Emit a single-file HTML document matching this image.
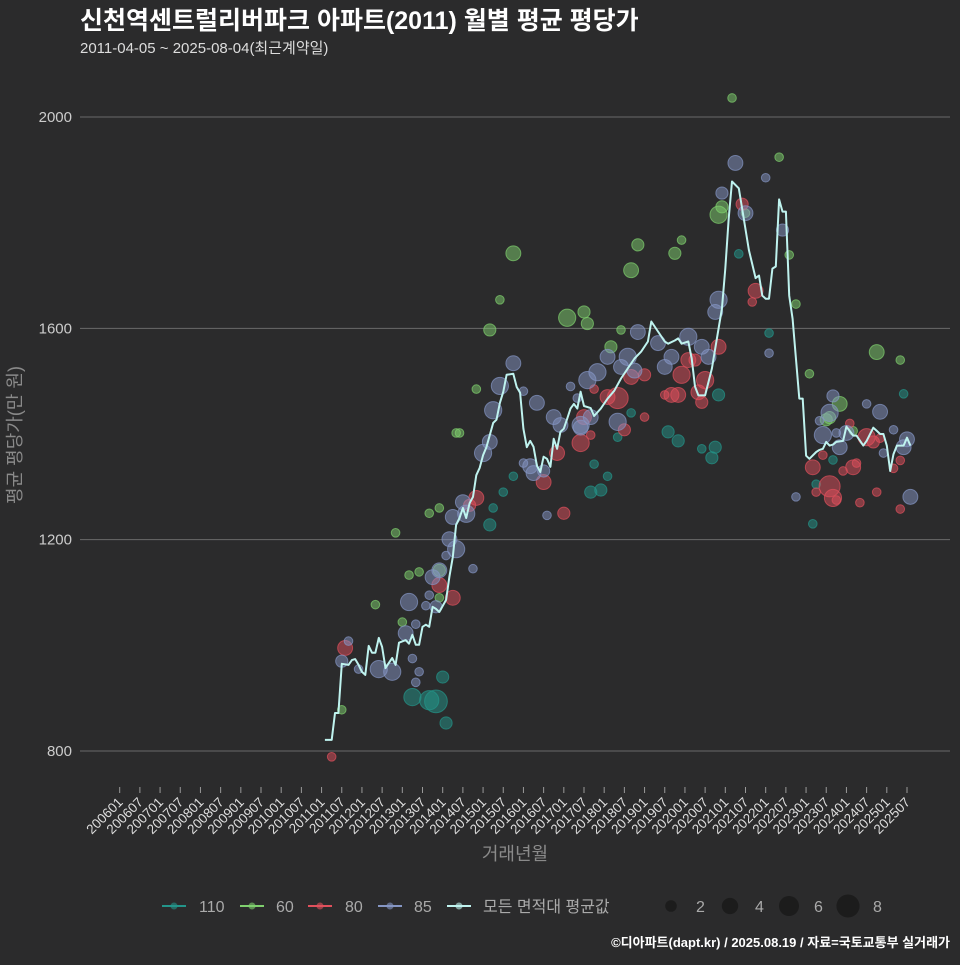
<!DOCTYPE html>
<html><head><meta charset="utf-8">
<style>
html,body{margin:0;padding:0;background:#2b2b2c;}
body{width:960px;height:960px;overflow:hidden;font-family:"Liberation Sans","Noto Sans CJK KR",sans-serif;}
svg text{font-family:"Liberation Sans","Noto Sans CJK KR",sans-serif;}
</style></head>
<body>
<svg id="chart" width="960" height="960" xmlns="http://www.w3.org/2000/svg">
<rect x="0" y="0" width="960" height="960" fill="#2b2b2c"/>
<text x="80" y="29" fill="#ffffff" font-size="25" font-weight="bold">신천역센트럴리버파크 아파트(2011) 월별 평균 평당가</text>
<text x="80" y="53" fill="#dddddd" font-size="15">2011-04-05 ~ 2025-08-04(최근계약일)</text>
<g id="grid"></g>
<g id="bubbles"></g>
<g id="line"></g>
<g id="xaxis"></g>
<text transform="translate(21,435) rotate(-90)" text-anchor="middle" fill="#8a8a8a" font-size="18">평균 평당가(만 원)</text>
<text x="515" y="860" text-anchor="middle" fill="#8a8a8a" font-size="18">거래년월</text>
<g id="legend"></g>
<text x="950" y="947" text-anchor="end" fill="#ffffff" font-size="13" font-weight="bold">©디아파트(dapt.kr) / 2025.08.19 / 자료=국토교통부 실거래가</text>
</svg>
<script>
const yTicks=[800,1200,1600,2000];
const xTickLabels=[];
for(let y=2006;y<=2025;y++){xTickLabels.push(y+'01');xTickLabels.push(y+'07');}
const lineMonths=['201102','201104','201105','201106','201107','201109','201110','201111','201112','201201','201202','201203','201204','201205','201206','201207','201208','201209','201210','201211','201212','201302','201303','201304','201305','201306','201307','201308','201309','201310','201311','201312','201402','201403','201404','201405','201406','201407','201408','201409','201410','201411','201412','201501','201502','201504','201505','201506','201507','201508','201510','201511','201512','201601','201602','201603','201604','201605','201606','201607','201608','201609','201610','201611','201612','201701','201702','201703','201704','201705','201706','201707','201709','201710','201712','201802','201804','201806','201808','201810','201812','201902','201903','201905','201907','201908','201910','201911','201912','202002','202003','202004','202005','202006','202007','202009','202011','202012','202101','202102','202103','202105','202106','202108','202110','202111','202112','202201','202202','202203','202204','202205','202206','202207','202208','202209','202211','202212','202301','202302','202304','202305','202306','202307','202308','202309','202310','202312','202401','202403','202404','202406','202407','202409','202410','202411','202412','202501','202502','202503','202504','202506','202507','202508'];
const lineValues=[821,821,872,872,965,963,972,974,963,950,944,999,986,986,1014,997,957,967,976,963,1005,1010,1003,1020,1001,1001,1035,1039,1035,1073,1069,1063,1086,1130,1167,1228,1241,1260,1241,1269,1281,1322,1336,1360,1375,1421,1427,1459,1480,1512,1514,1489,1478,1410,1375,1387,1376,1340,1328,1357,1353,1338,1391,1372,1404,1410,1429,1448,1457,1448,1480,1453,1449,1434,1448,1467,1482,1505,1524,1543,1556,1575,1613,1594,1575,1571,1577,1581,1571,1575,1543,1490,1473,1473,1473,1524,1600,1637,1713,1808,1878,1865,1827,1748,1695,1700,1662,1656,1656,1713,1717,1844,1821,1821,1662,1618,1467,1467,1359,1353,1366,1370,1372,1385,1378,1380,1385,1387,1414,1397,1397,1378,1387,1412,1406,1400,1400,1378,1330,1362,1378,1378,1393,1378];
const seriesNames=['110','60','80','85'];
const seriesColors=['#23958a','#7fd06e','#e0505c','#8596c4'];
const s110=[['201304',902,4],['201311',894,7],['201309',896,5],['201401',940,2],['201402',853,2],['201503',1228,2],['201504',1260,1],['201507',1290,1],['201510',1320,1],['201908',1404,2],['201911',1387,2],['202011',1474,2],['202010',1375,2],['202009',1355,2],['201709',1290,2],['201712',1294,2],['201710',1343,1],['201802',1320,1],['201805',1394,1],['201809',1440,1],['202006',1372,1],['202105',1741,1],['202202',1591,1],['202506',1476,1],['202309',1351,1],['202304',1305,1],['202303',1230,1]];
const s60=[['201510',1742,3],['201503',1597,2],['201506',1654,1],['201702',1620,4],['201707',1631,2],['201708',1609,2],['201809',1710,3],['201811',1758,2],['201910',1742,2],['202011',1815,4],['202012',1830,2],['202103',2036,1],['202205',1924,1],['202410',1555,3],['202311',1457,3],['202308',1431,2],['202307',1427,2],['201806',1597,1],['201912',1767,1],['201803',1565,2],['202107',1818,1],['202208',1739,1],['202210',1646,1],['202403',1406,1],['202505',1540,1],['202302',1514,1],['201107',878,1],['201205',1077,1],['201211',1213,1],['201306',1139,1],['201309',1250,1],['201301',1044,1],['201303',1133,1],['201312',1260,1],['201405',1402,1],['201406',1402,1],['201312',1090,1],['201312',1142,2],['201411',1485,1]];
const s80=[['201108',995,3],['201104',789,1],['201312',1114,3],['201404',1090,3],['201411',1279,3],['201409',1265,2],['201607',1309,3],['201611',1364,3],['201706',1383,4],['201701',1250,2],['201805',1468,6],['201802',1470,3],['201807',1408,2],['201901',1512,2],['201809',1508,3],['201909',1474,3],['201911',1474,3],['201912',1512,4],['202002',1540,3],['202007',1502,4],['202006',1460,2],['202005',1479,3],['202011',1565,3],['202004',1540,2],['201707',1432,3],['201710',1485,1],['201901',1432,1],['201907',1474,1],['201709',1398,1],['202106',1835,2],['202110',1671,3],['202109',1650,1],['202303',1337,3],['202308',1301,6],['202309',1279,4],['202403',1337,3],['202407',1394,4],['202409',1385,2],['202306',1360,1],['202404',1345,1],['202312',1330,1],['202304',1290,1],['202411',1392,1],['202405',1270,1],['202505',1258,1],['202505',1350,1],['202503',1335,1],['202410',1290,1],['202310',1275,1],['202402',1420,1]];
const s85=[['201107',970,2],['201109',1008,1],['201206',955,4],['201210',950,4],['201112',955,1],['201302',1023,3],['201303',1082,4],['201310',1129,3],['201312',1142,3],['201311',1073,2],['201403',1201,3],['201405',1182,4],['201404',1243,3],['201408',1249,4],['201407',1271,3],['201410',1145,1],['201501',1364,4],['201504',1445,4],['201506',1491,4],['201503',1385,3],['201510',1534,3],['201605',1459,3],['201603',1339,3],['201604',1326,3],['201601',1345,1],['201306',950,1],['201305',930,1],['201304',975,1],['201305',1040,1],['201308',1075,1],['201309',1095,1],['201402',1170,1],['201610',1432,3],['201612',1417,3],['201706',1417,4],['201709',1432,3],['201711',1517,4],['201708',1502,4],['201802',1546,3],['201806',1527,3],['201808',1546,4],['201810',1520,3],['201811',1593,3],['201905',1572,3],['201907',1527,3],['201909',1546,3],['202002',1584,4],['202006',1565,3],['202008',1546,3],['202011',1654,4],['202010',1631,3],['202012',1856,2],['201805',1423,4],['201706',1412,3],['201607',1330,2],['201608',1246,1],['201703',1490,1],['201705',1468,1],['201601',1481,1],['202104',1913,3],['202107',1818,3],['202201',1885,1],['202206',1786,2],['202202',1553,1],['202309',1472,2],['202308',1440,4],['202306',1398,4],['202311',1375,3],['202401',1402,3],['202411',1442,3],['202407',1457,1],['202506',1375,3],['202507',1390,3],['202508',1281,3],['202210',1281,1],['202412',1364,1],['202310',1402,1],['202503',1408,1],['202305',1425,1]];
const allSeries=[s110,s60,s80,s85];

const NS='http://www.w3.org/2000/svg';
function mk(tag,attrs,parent){const e=document.createElementNS(NS,tag);for(const k in attrs)e.setAttribute(k,attrs[k]);parent.appendChild(e);return e;}
function xOf(ym){const y=+ym.slice(0,4),m=+ym.slice(4,6);return 119.7+((y-2006)*12+m-1)*3.3645;}
function yOf(v){return 751-(v-800)*0.52833;}
function rOf(n){return 4.3*Math.sqrt(n);}

const grid=document.getElementById('grid');
yTicks.forEach(t=>{
  const l=mk('line',{x1:80,x2:950,y1:yOf(t),y2:yOf(t),stroke:'#6a6a6a','stroke-width':1},grid);
  
  
  const tx=mk('text',{x:72,y:yOf(t)+5,'text-anchor':'end',fill:'#cccccc','font-size':15},grid);
  tx.textContent=t;
  
  
});

const xa=document.getElementById('xaxis');
xTickLabels.forEach(lab=>{
  const x=xOf(lab);
  const tk=mk('line',{x1:x,x2:x,y1:787,y2:793,stroke:'#999','stroke-width':1},xa);
  
  
  const tx=mk('text',{transform:'translate('+(x+4)+',803) rotate(-45)','text-anchor':'end',fill:'#dddddd','font-size':13.5},xa);
  tx.textContent=lab;
  
  
});

const bg=document.getElementById('bubbles');
allSeries.forEach((s,i)=>{
  const g=mk('g',{},bg);
  
  
  s.forEach(p=>{
    const c=mk('circle',{cx:xOf(p[0]),cy:yOf(p[1]),r:rOf(p[2]),fill:seriesColors[i],'fill-opacity':0.5,stroke:seriesColors[i],'stroke-opacity':0.7,'stroke-width':1},g);
    
    
  });
});

const lg=document.getElementById('line');
const pts=lineMonths.map((m,i)=>xOf(m).toFixed(1)+','+yOf(lineValues[i]).toFixed(1)).join(' ');
const pl=mk('polyline',{points:pts,fill:'none',stroke:'#bff3ef','stroke-width':2,'stroke-linejoin':'round'},lg);



const leg=document.getElementById('legend');
const legItems=[[162,199,'110','#23958a'],[240,276,'60','#7fd06e'],[308,345,'80','#e0505c'],[378,414,'85','#8596c4'],[447,483,'모든 면적대 평균값','#bff3ef']];
legItems.forEach(it=>{
  const g=mk('g',{},leg);
  
  
  mk('line',{x1:it[0],x2:it[0]+24,y1:906,y2:906,stroke:it[3],'stroke-width':2},g);
  mk('circle',{cx:it[0]+12,cy:906,r:3.5,fill:it[3],'fill-opacity':0.6},g);
  const t=mk('text',{x:it[1],y:912,fill:'#aaaaaa','font-size':16},g);
  t.textContent=it[2];
});
const sizeItems=[[671,2],[730,4],[789,6],[848,8]];
sizeItems.forEach(it=>{
  const g=mk('g',{},leg);
  
  
  mk('circle',{cx:it[0],cy:906,r:rOf(it[1])*0.95,fill:'#1c1c1c'},g);
  const t=mk('text',{x:it[0]+25,y:912,fill:'#aaaaaa','font-size':16},g);
  t.textContent=it[1];
});
</script>
</body></html>
